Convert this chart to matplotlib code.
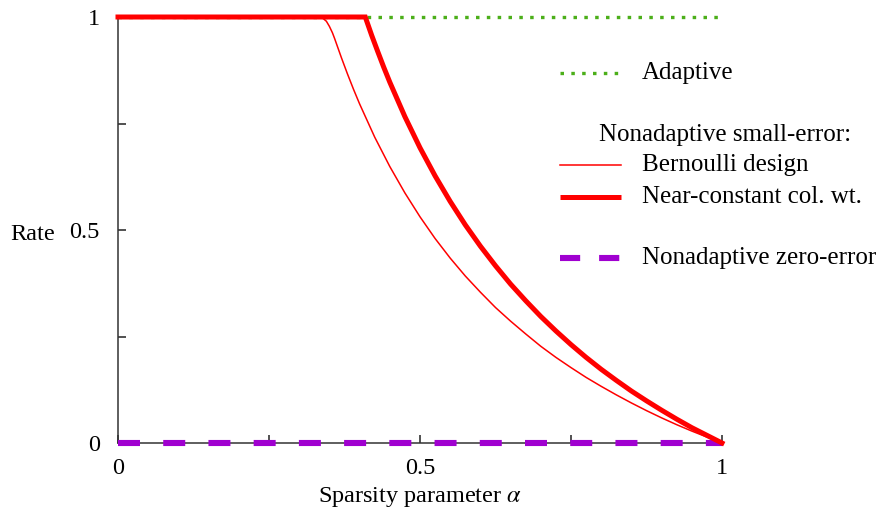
import matplotlib
matplotlib.use("Agg")
import matplotlib.pyplot as plt
from matplotlib.lines import Line2D

plt.rcParams['font.family'] = ['Liberation Serif', 'DejaVu Serif']
plt.rcParams['mathtext.fontset'] = 'stix'

# ---- data ----
alpha_adaptive = [0.0, 1.0]
rate_adaptive = [1.0, 1.0]

alpha_zero = [0.0, 1.0]
rate_zero = [0.0, 0.0]

alpha_bern = [0.0, 0.3333, 0.337, 0.34, 0.345, 0.35, 0.355, 0.3585, 0.37, 0.38, 0.39,
              0.40, 0.425, 0.45, 0.475, 0.50, 0.525, 0.55, 0.575, 0.60, 0.625, 0.65,
              0.675, 0.70, 0.725, 0.75, 0.775, 0.80, 0.825, 0.85, 0.875, 0.90, 0.925,
              0.95, 0.975, 1.0]
rate_bern = [1.0, 1.0, 0.999, 0.996, 0.990, 0.978, 0.963, 0.950, 0.904, 0.866, 0.830,
             0.796, 0.718, 0.649, 0.587, 0.531, 0.480, 0.434, 0.392, 0.354, 0.318, 0.286,
             0.256, 0.227, 0.201, 0.177, 0.154, 0.133, 0.113, 0.094, 0.076, 0.059, 0.043,
             0.028, 0.014, 0.0]

alpha_ncc = [0.0, 0.4094, 0.42, 0.43, 0.44, 0.45, 0.475, 0.50, 0.525, 0.55, 0.575, 0.60,
             0.625, 0.65, 0.675, 0.70, 0.725, 0.75, 0.775, 0.80, 0.825, 0.85, 0.875,
             0.90, 0.925, 0.95, 0.975, 1.0]
rate_ncc = [1.0, 1.0, 0.957, 0.919, 0.882, 0.847, 0.766, 0.693, 0.627, 0.567, 0.512, 0.462,
            0.416, 0.373, 0.334, 0.297, 0.263, 0.231, 0.201, 0.173, 0.147, 0.122, 0.099,
            0.077, 0.056, 0.036, 0.018, 0.0]

xticks_major = [0, 0.5, 1]
xtick_labels = ['0', '0.5', '1']
yticks_major = [0, 0.5, 1]
ytick_labels = ['0', '0.5', '1']
minor_ticks = [0.25, 0.75]

green = '#4caf1a'
purple = '#a000d0'
red = '#ff0000'

FS_AX = 17.5
FS_LEG = 18

W, H = 878, 516
fig = plt.figure(figsize=(W / 100, H / 100), dpi=100)
ax = fig.add_axes([118 / W, 1 - 443 / H, (722 - 118) / W, (443 - 17) / H])

dots = dict(color=green, lw=2.4, dashes=(1.05, 2.2), dash_capstyle='butt')
dashes_p = dict(color=purple, lw=4.4, dashes=(3.6, 3.8), dash_capstyle='butt')
dashes_leg = dict(color=purple, lw=4.4, dashes=(3.3, 3.1), dash_capstyle='butt')

ax.plot(alpha_zero, rate_zero, zorder=3, clip_on=False, **dashes_p)
ax.plot(alpha_adaptive, rate_adaptive, zorder=2, clip_on=False, **dots)
ax.plot(alpha_bern, rate_bern, color=red, lw=1.1, zorder=4, clip_on=False)
ax.plot(alpha_ncc, rate_ncc, color=red, lw=3.6, zorder=5, clip_on=False,
        solid_joinstyle='miter')

ax.set_xlim(0, 1)
ax.set_ylim(0, 1)
for s in ['top', 'right']:
    ax.spines[s].set_visible(False)
for s in ['left', 'bottom']:
    ax.spines[s].set_color('#333333')
    ax.spines[s].set_linewidth(1.1)

ax.set_xticks(xticks_major)
ax.set_xticklabels(xtick_labels)
ax.set_yticks(yticks_major)
ax.set_yticklabels(ytick_labels)
ax.set_xticks(minor_ticks, minor=True)
ax.set_yticks(minor_ticks, minor=True)
ax.tick_params(which='both', direction='in', length=6, width=1.1, color='#222222')
ax.tick_params(axis='x', which='major', pad=11, labelsize=FS_AX)
ax.tick_params(axis='y', which='major', pad=13, labelsize=FS_AX)

ax.set_xlabel(r'Sparsity parameter $\alpha$', fontsize=FS_AX, labelpad=4)
ax.set_ylabel('Rate', rotation=0, fontsize=FS_AX, va='center', ha='left')
ax.yaxis.set_label_coords(-108 / (722 - 118), 0.49)

# ---- manual legend (figure pixel coordinates) ----
def px(x, y):
    return x / W, 1 - y / H

def legline(y, **kw):
    (x0, yy), (x1, _) = px(560, y), px(621, y)
    fig.add_artist(Line2D([x0, x1], [yy, yy], transform=fig.transFigure, **kw))

def legtext(x, y, s):
    fx, fy = px(x, y)
    fig.text(fx, fy, s, fontsize=FS_LEG, va='center', ha='left')

legline(73, **dots)
legtext(642, 73, 'Adaptive')
legtext(599, 135, 'Nonadaptive small-error:')
legline(165, color=red, lw=1.1)
legtext(642, 165, 'Bernoulli design')
legline(197, color=red, lw=3.6, solid_capstyle='butt')
legtext(642, 197, 'Near-constant col. wt.')
legline(258, **dashes_leg)
legtext(642, 258, 'Nonadaptive zero-error')

fig.savefig('out.png', dpi=100)
